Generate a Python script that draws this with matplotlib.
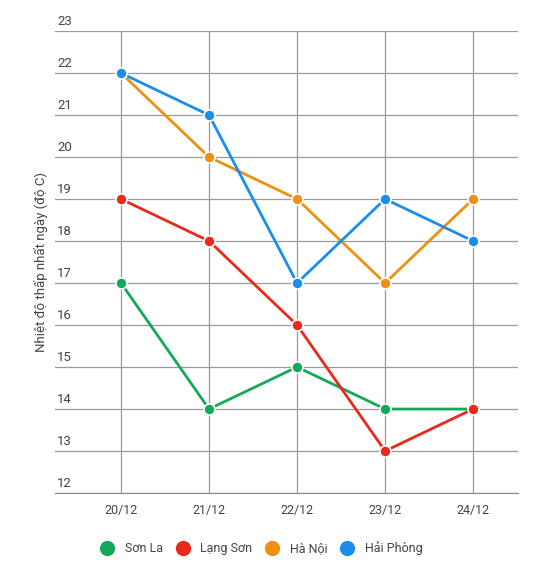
import matplotlib.pyplot as plt
from matplotlib.lines import Line2D
import matplotlib.transforms as mtransforms

plt.rcParams['font.family'] = ['Roboto', 'DejaVu Sans']

days = ['20/12', '21/12', '22/12', '23/12', '24/12']
son_la = [17, 14, 15, 14, 14]
lang_son = [19, 18, 16, 13, 14]
ha_noi = [22, 20, 19, 17, 19]
hai_phong = [22, 21, 17, 19, 18]
y_ticks = list(range(12, 24))

series = [
    ('Sơn La', son_la, '#14a85a'),
    ('Lạng Sơn', lang_son, '#e8291c'),
    ('Hà Nội', ha_noi, '#ee9012'),
    ('Hải Phòng', hai_phong, '#1b8ded'),
]

fig = plt.figure(figsize=(5.47, 5.75), dpi=100)
ax = fig.add_axes([0.1005, 0.1426, 0.8465, 0.8034])

x = list(range(len(days)))
for name, vals, color in series:
    ax.plot(x, vals, color=color, linewidth=2, marker='o', markersize=8,
            markeredgecolor='white', markeredgewidth=1.2, zorder=3, label=name)

ax.set_xlim(-0.75, 4.51)
ax.set_ylim(12, 23)
ax.set_xticks(x)
ax.set_xticklabels(days, fontsize=9, color='#444444')
ax.set_yticks(y_ticks)
ax.set_yticklabels([])
ax.tick_params(axis='both', length=0)
ax.tick_params(axis='x', pad=8)
ax.grid(True, color='#9a9a9a', linewidth=0.9)
ax.set_axisbelow(True)
for s in ['top', 'right', 'left']:
    ax.spines[s].set_visible(False)
ax.spines['bottom'].set_color('#888888')

# y labels sit above the gridlines at the left
trans = mtransforms.blended_transform_factory(ax.transAxes, ax.transData)
for v in y_ticks:
    ax.text(0.005, v + 0.08, str(v), transform=trans, fontsize=9.5,
            color='#444444', ha='left', va='bottom')

fig.text(0.075, 0.545, 'Nhiệt độ thấp nhất ngày (độ C)', rotation=90,
         fontsize=9.5, color='#444444', ha='center', va='center')

handles = [Line2D([], [], linestyle='none', marker='o', markersize=11,
                  markerfacecolor=c, markeredgecolor='none') for _, _, c in series]
fig.legend(handles, [n for n, _, _ in series], loc='center',
           bbox_to_anchor=(0.473, 0.047), ncol=4, frameon=False, fontsize=9,
           handletextpad=0.4, columnspacing=0.6, labelcolor='#444444')

plt.savefig('out.png', dpi=100)
